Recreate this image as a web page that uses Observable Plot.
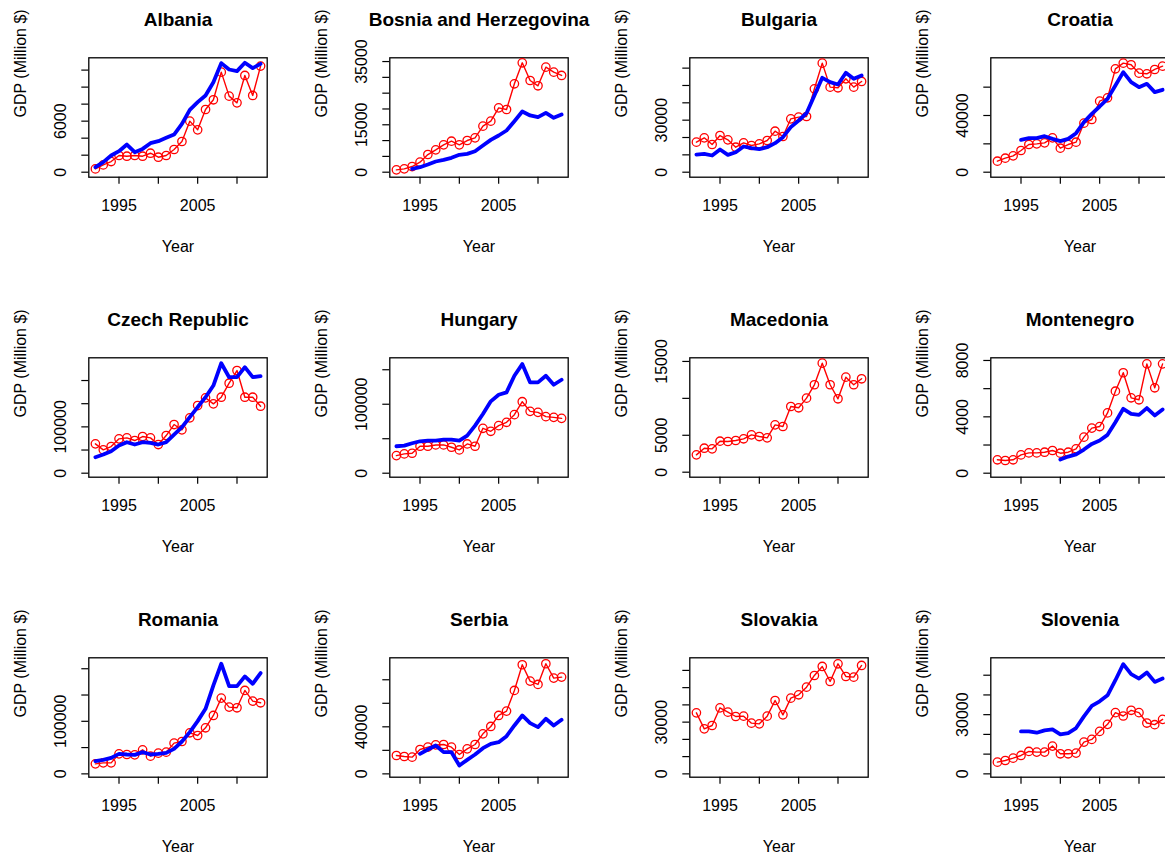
<!DOCTYPE html>
<html><head><meta charset="utf-8">
<script src="https://cdn.jsdelivr.net/npm/d3@7"></script>
<script src="https://cdn.jsdelivr.net/npm/@observablehq/plot@0.6"></script>
<style>
html,body{margin:0;padding:0;background:#fff;}
body{width:1165px;height:857px;overflow:hidden;position:relative;font-family:"Liberation Sans",Arial,Helvetica,sans-serif;}
.panel{position:absolute;width:300px;height:300px;}
</style></head><body><div id="root"></div>
<script>
const years = [1992,1993,1994,1995,1996,1997,1998,1999,2000,2001,2002,2003,2004,2005,2006,2007,2008,2009,2010,2011,2012,2013];
const xTicks = [1995, 2000, 2005, 2010];
const xTickLabels = ["1995", "", "2005", ""];
const yAxisTitle = "GDP (Million $)";
const xAxisTitle = "Year";

const countries = ["Albania","Bosnia and Herzegovina","Bulgaria","Croatia","Czech Republic","Hungary","Macedonia","Montenegro","Romania","Serbia","Slovakia","Slovenia"];

const albaniaRed = [390,860,1250,1960,1880,1960,1880,2230,1760,1960,2670,3610,6000,4980,7370,8510,11760,8940,8150,11370,9020,12470];
const albaniaBlue = [590,1180,1960,2470,3250,2350,2740,3410,3650,4040,4430,5680,7330,8230,9020,10580,12820,12070,11880,12860,12230,12740];
const bosniaRed = [740,1060,1790,3170,5590,7070,8650,9810,8650,10020,10870,14560,16140,20360,19830,27960,34600,29010,27330,33230,31650,30600];
const bosniaBlue = [null,null,1060,1580,2430,3380,3900,4540,5490,5800,6650,8440,10230,11610,13190,16140,19200,17940,17410,18780,17200,18250];
const bulgariaRed = [17310,19810,15960,21150,18650,14420,16920,15380,16350,18270,23650,20580,30770,31730,32110,48080,62880,49040,48650,53840,49040,52310];
const bulgariaBlue = [10190,10580,9620,13080,10000,11540,14810,13850,13270,14420,16730,20190,25960,29810,34040,44230,54420,51920,50580,57310,53840,55770];
const croatiaRed = [7770,9880,11530,15300,19530,20000,20710,24240,16940,19530,21180,34590,37180,50120,52470,72940,76940,75770,69880,69410,72470,74830];
const croatiaBlue = [null,null,null,22820,24000,24000,25410,23530,21880,23530,27530,35300,41180,46350,51770,61180,70590,63530,60000,62360,56470,58120];
const czechRed = [63310,50360,57550,74100,76260,70500,79130,76260,61870,81290,105030,93520,119420,146040,162580,149640,164020,194240,221580,164020,164020,144600];
const czechBlue = [34530,40290,47480,59710,66900,61870,66900,65470,61870,66900,83450,99280,120860,142440,164020,189200,237400,207190,207190,228770,207190,209350];
const hungaryRed = [25560,27970,28930,39060,39060,40990,40990,37610,33750,42430,39060,65100,60760,68960,73780,84870,103670,89690,88240,81970,81010,79560];
const hungaryBlue = [39060,40020,43400,46290,47260,47260,48700,48700,47260,54490,68960,85830,104160,113800,117180,141290,158160,131640,131640,141290,128270,135500];
const macedoniaRed = [2350,3250,3160,4200,4160,4290,4520,5060,4830,4650,6410,6190,8900,8720,10030,11840,14770,11840,9940,12870,11840,12650];
const montenegroRed = [950,900,950,1300,1440,1440,1490,1610,1420,1490,1730,2560,3200,3310,4280,5820,7130,5350,5210,7760,6060,7760];
const montenegroBlue = [null,null,null,null,null,null,null,null,970,1180,1330,1680,2080,2320,2720,3620,4570,4210,4140,4620,4100,4520];
const romaniaRed = [19050,20950,20950,38090,36820,36190,45710,33650,39360,41270,58410,61590,78090,73010,87620,111110,144120,126980,125710,158730,138410,135230];
const romaniaBlue = [24130,26670,30480,38090,36820,36190,41270,36820,38090,40000,47620,61590,79360,100310,123810,168250,209520,166980,166980,185390,171420,191740];
const serbiaRed = [15600,14750,14190,20710,22700,24680,24970,22700,16460,21280,24970,34040,40290,49650,53340,70930,92770,78870,76030,93620,81420,82270];
const serbiaBlue = [null,null,null,17020,20710,24120,18440,18440,7090,11920,16460,21850,25530,26950,32060,41140,49650,43120,39720,46810,41140,45960];
const slovakiaRed = [35390,26110,28040,38290,35780,33270,33460,29400,29010,33460,42550,34230,43900,45840,50280,57050,62280,53570,63820,56470,56090,62860];
const sloveniaRed = [5930,6780,7970,9320,11360,11020,11020,14070,10170,10170,10510,16100,17460,21530,25090,31020,29320,32210,31020,25760,24920,27630];
const sloveniaBlue = [null,null,null,21530,21530,20850,22040,22540,20000,20680,23220,29150,34410,36780,39830,47460,55600,50510,48310,51360,46610,48310];

const yTicksList = [
  [0,2000,4000,6000,8000,10000,12000],
  [0,5000,10000,15000,20000,25000,30000,35000],
  [0,10000,20000,30000,40000,50000,60000],
  [0,20000,40000,60000],
  [0,50000,100000,150000,200000],
  [0,50000,100000,150000],
  [0,5000,10000,15000],
  [0,2000,4000,6000,8000],
  [0,50000,100000,150000,200000],
  [0,20000,40000,60000,80000],
  [0,10000,20000,30000,40000,50000,60000],
  [0,10000,20000,30000,40000,50000]
];
const yLabelsList = [
  ["0","","","6000","","",""],
  ["0","","","15000","","","","35000"],
  ["0","","","30000","","",""],
  ["0","","40000",""],
  ["0","","100000","",""],
  ["0","","100000",""],
  ["0","5000","","15000"],
  ["0","","4000","","8000"],
  ["0","","100000","",""],
  ["0","","40000","",""],
  ["0","","","30000","","",""],
  ["0","","","30000","",""]
];
const yDomains = [
  [-588,13446],[-1583,36187],[-2885,65959],[-3530,80708],
  [-8633,249052],[-5786,167323],[-678,15493],[-284,8190],
  [-6349,220810],[-2837,98676],[-1934,67303],[-1695,58821]
];
const redSeries = [albaniaRed,bosniaRed,bulgariaRed,croatiaRed,czechRed,hungaryRed,macedoniaRed,montenegroRed,romaniaRed,serbiaRed,slovakiaRed,sloveniaRed];
const blueSeries = [albaniaBlue,bosniaBlue,bulgariaBlue,croatiaBlue,czechBlue,hungaryBlue,null,montenegroBlue,romaniaBlue,serbiaBlue,null,sloveniaBlue];

const root = document.getElementById("root");
const font = "'Liberation Sans', Arial, Helvetica, sans-serif";

countries.forEach((name, k) => {
  const col = k % 4, row = Math.floor(k / 4);
  const red = redSeries[k], blue = blueSeries[k];
  const ticks = yTicksList[k], labels = yLabelsList[k];
  const data = years.map((year, i) => ({year, red: red[i], blue: blue ? blue[i] : null}));
  const marks = [
    Plot.frame({stroke: "black", strokeWidth: 1.3}),
    Plot.axisX({ticks: xTicks, tickFormat: d => xTickLabels[xTicks.indexOf(d)], tickSize: 7, tickPadding: 15, fontSize: 16, label: null, strokeWidth: 1.2}),
    Plot.axisY({ticks: ticks, tickFormat: d => labels[ticks.indexOf(d)], tickSize: 7, tickPadding: 21, tickRotate: -90, textAnchor: "middle", lineAnchor: "middle", fontSize: 16, label: null, strokeWidth: 1.2}),
    Plot.text([xAxisTitle], {frameAnchor: "bottom", dy: 70, lineAnchor: "middle", fontSize: 16}),
    Plot.text([yAxisTitle], {frameAnchor: "left", dx: -68, rotate: -90, lineAnchor: "middle", fontSize: 16}),
    Plot.text([name], {frameAnchor: "top", dy: -38, lineAnchor: "middle", fontSize: 19, fontWeight: "bold"}),
    Plot.line(data, {x: "year", y: "red", stroke: "#ff0000", strokeWidth: 1.4}),
    Plot.dot(data, {x: "year", y: "red", r: 4.2, stroke: "#ff0000", strokeWidth: 1.3, fill: "none"})
  ];
  if (blue) marks.push(Plot.line(data, {x: "year", y: "blue", stroke: "#0000ff", strokeWidth: 3.8}));
  const svg = Plot.plot({
    width: 300, height: 300,
    marginLeft: 88.3, marginRight: 33.3, marginTop: 57.3, marginBottom: 123.3,
    style: {fontFamily: font, fontSize: "16px", background: "transparent", overflow: "visible", color: "black"},
    x: {domain: [1991.16, 2013.84]},
    y: {domain: yDomains[k]},
    marks
  });
  const div = document.createElement("div");
  div.className = "panel";
  div.style.left = (col * 300.5) + "px";
  div.style.top = (row * 300) + "px";
  div.appendChild(svg);
  root.appendChild(div);
});
</script>
</body></html>
